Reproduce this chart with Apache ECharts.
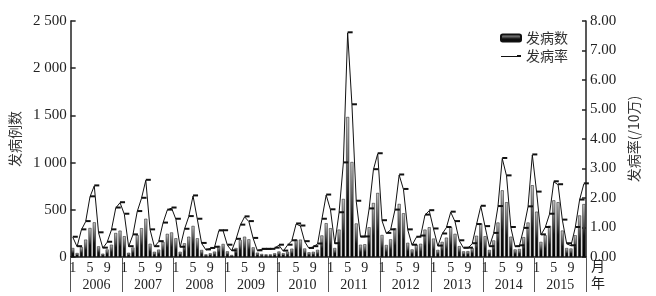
<!DOCTYPE html>
<html><head><meta charset="utf-8">
<script src="https://cdn.jsdelivr.net/npm/echarts@6/dist/echarts.min.js"></script>
<style>html,body{margin:0;padding:0;background:#fff}#c{width:656px;height:296px}</style>
</head><body><div id="c"></div>
<script>
const years = ['2006','2007','2008','2009','2010','2011','2012','2013','2014','2015'];
const monthLabels = ['1','5','9'];
const leftTicks = ['0','500','1 000','1 500','2 000','2 500'];
const rightTicks = ['0.00','1.00','2.00','3.00','4.00','5.00','6.00','7.00','8.00'];

const count2006 = [95, 42, 106, 184, 307, 367, 113, 35, 80, 130, 254, 279];
const count2007 = [220, 45, 100, 232, 305, 405, 140, 55, 78, 160, 245, 260];
const count2008 = [198, 55, 145, 215, 329, 198, 74, 28, 39, 57, 117, 138];
const count2009 = [60, 21, 95, 180, 215, 187, 102, 46, 32, 28, 28, 39];
const count2010 = [58, 40, 55, 88, 184, 184, 90, 50, 55, 76, 228, 358];
const count2011 = [305, 95, 290, 615, 1483, 1006, 355, 130, 135, 315, 572, 678];
const count2012 = [233, 127, 187, 304, 562, 463, 150, 80, 130, 140, 290, 315];
const count2013 = [195, 75, 160, 205, 315, 245, 115, 60, 62, 95, 225, 355];
const count2014 = [220, 75, 175, 365, 706, 580, 215, 80, 85, 210, 365, 760];
const count2015 = [480, 160, 230, 330, 600, 580, 280, 95, 90, 230, 440, 560];

const rate2006 = [0.67, 0.35, 0.92, 1.2, 2.04, 2.41, 0.82, 0.3, 0.5, 0.92, 1.66, 1.84];
const rate2007 = [1.45, 0.35, 0.75, 1.54, 1.99, 2.6, 0.92, 0.35, 0.52, 1.15, 1.59, 1.66];
const rate2008 = [1.28, 0.33, 0.94, 1.37, 2.07, 1.28, 0.46, 0.24, 0.29, 0.33, 0.89, 0.89];
const rate2009 = [0.4, 0.21, 0.6, 1.08, 1.36, 1.2, 0.63, 0.21, 0.26, 0.26, 0.26, 0.3];
const rate2010 = [0.4, 0.2, 0.4, 0.55, 1.12, 1.05, 0.52, 0.29, 0.35, 0.44, 1.28, 2.1];
const rate2011 = [1.6, 0.45, 1.5, 3.19, 7.6, 5.16, 1.89, 0.68, 0.68, 1.63, 2.96, 3.5];
const rate2012 = [1.23, 0.8, 0.92, 1.59, 2.78, 2.29, 0.92, 0.4, 0.67, 0.71, 1.42, 1.57];
const rate2013 = [0.95, 0.37, 0.78, 1.0, 1.52, 1.2, 0.55, 0.3, 0.3, 0.45, 1.1, 1.72];
const rate2014 = [1.03, 0.35, 0.8, 1.71, 3.34, 2.75, 1.0, 0.35, 0.38, 0.97, 1.7, 3.46];
const rate2015 = [2.2, 0.75, 1.0, 1.45, 2.55, 2.45, 1.25, 0.45, 0.38, 1.0, 1.93, 2.48];

const counts = [].concat(count2006,count2007,count2008,count2009,count2010,count2011,count2012,count2013,count2014,count2015);
const rates = [].concat(rate2006,rate2007,rate2008,rate2009,rate2010,rate2011,rate2012,rate2013,rate2014,rate2015);
const cats = [];
years.forEach(y => { for (let m = 1; m <= 12; m++) cats.push(y + '-' + m); });

const FONT = "'Liberation Serif', 'Noto Sans CJK SC', serif";
const CJK = "'Noto Sans CJK SC', serif";
const chart = echarts.init(document.getElementById('c'), null, {renderer: 'canvas'});
chart.setOption({
  animation: false,
  backgroundColor: '#fff',
  grid: {left: 63, right: 70, top: 21, bottom: 39},
  legend: {
    orient: 'vertical', left: 495, top: 26, itemWidth: 20, itemHeight: 7, itemGap: 4,
    textStyle: {fontSize: 14, color: '#333', fontFamily: CJK},
    data: [
      {name: '发病数'},
      {name: '发病率', icon: 'path://M0,6 L16,6 L16,5 L20,5 L20,7 L0,7 Z'}
    ]
  },
  xAxis: [{
    type: 'category', data: cats, boundaryGap: true,
    axisLine: {lineStyle: {color: '#222', width: 1.5}},
    axisTick: {show: false},
    axisLabel: {
      interval: 0, margin: 4, fontSize: 14, color: '#222', fontFamily: FONT,
      formatter: v => { const m = v.split('-')[1]; return monthLabels.indexOf(m) >= 0 ? m : ''; }
    }
  }, {
    type: 'category', data: years, position: 'bottom', offset: 0, boundaryGap: true,
    axisLine: {show: false},
    axisTick: {show: true, length: 35, interval: 0, lineStyle: {color: '#555', width: 1}},
    axisLabel: {interval: 0, margin: 21, fontSize: 14, color: '#222', fontFamily: FONT}
  }],
  yAxis: [{
    type: 'value', min: 0, max: 2500, interval: 500,
    name: '发病例数', nameLocation: 'middle', nameRotate: 90, nameGap: 45,
    nameTextStyle: {fontSize: 14, color: '#333', fontFamily: CJK},
    axisLine: {show: true, lineStyle: {color: '#222', width: 1.5}},
    axisTick: {show: true, inside: true, length: 5, lineStyle: {color: '#222', width: 1.5}},
    splitLine: {show: false},
    axisLabel: {margin: 4, fontSize: 15, color: '#222', fontFamily: FONT,
      formatter: v => leftTicks[Math.round(v / 500)]}
  }, {
    type: 'value', min: 0, max: 8, interval: 1, position: 'right',
    name: '发病率(/10万)', nameLocation: 'middle', nameRotate: 90, nameGap: 41,
    nameTextStyle: {fontSize: 14, color: '#333', fontFamily: CJK},
    axisLine: {show: true, lineStyle: {color: '#222', width: 1.5}},
    axisTick: {show: true, inside: true, length: 4, lineStyle: {color: '#222', width: 1.5}},
    splitLine: {show: false},
    axisLabel: {margin: 4, fontSize: 15, color: '#222', fontFamily: FONT,
      formatter: v => rightTicks[Math.round(v)]}
  }],
  graphic: [
    {type: 'text', left: 591, top: 259, style: {text: '月', fontSize: 14, fill: '#222', fontFamily: CJK}},
    {type: 'text', left: 591, top: 276, style: {text: '年', fontSize: 14, fill: '#222', fontFamily: CJK}}
  ],
  series: [{
    name: '发病数', type: 'bar', xAxisIndex: 0, yAxisIndex: 0, data: counts, barWidth: 3,
    itemStyle: {
      color: new echarts.graphic.LinearGradient(0, 0, 0, 1, [
        {offset: 0, color: '#c8c8c8'}, {offset: 0.4, color: '#555'}, {offset: 0.6, color: '#111'}, {offset: 1, color: '#000'}
      ]),
      borderColor: '#111', borderWidth: 0.5
    }
  }, {
    name: '发病率', type: 'line', xAxisIndex: 0, yAxisIndex: 1, data: rates,
    lineStyle: {color: '#111', width: 1},
    itemStyle: {color: '#111'},
    symbol: 'rect', symbolSize: [5, 2], symbolOffset: [2.5, -0.5], showSymbol: true
  }]
});
</script></body></html>
